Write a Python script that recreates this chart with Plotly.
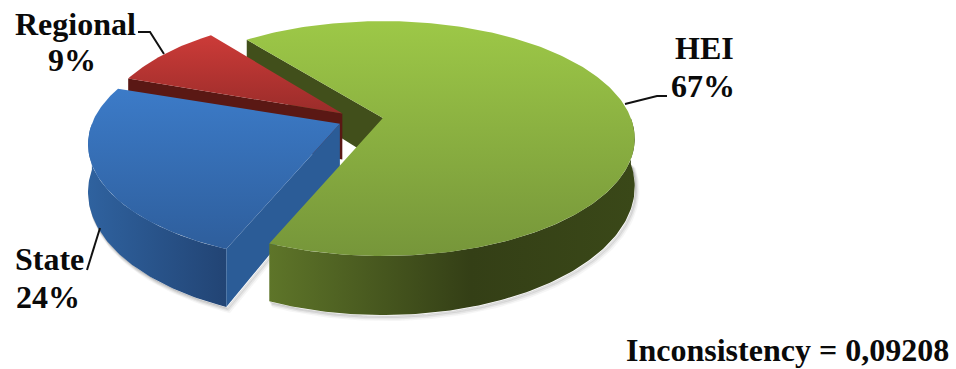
import math
import plotly.graph_objects as go

# Survey shares, in drawing order clockwise from the first slice
categories = ["HEI", "State", "Regional"]
shares = [67, 24, 9]
percent_labels = ["67%", "24%", "9%"]
note_text = "Inconsistency = 0,09208"

# Pie geometry on a 956x369 pixel canvas
CENTER = (360.6, 119.5)
RX, RY = 248.0, 113.9
PERSPECTIVE = 0.1745
DEPTH = 46.0
EXPLODE = 0.091
START_DEG = -38.6
WIDTH_SCALE = {"HEI": 1.0, "State": 1.0, "Regional": 0.965}

face_colors = {
    "HEI": ("#9DC847", "#76963A"),
    "State": ("#3C7BC8", "#2E5E9C"),
    "Regional": ("#CC3B38", "#9A2C2A"),
}
wall_colors = {
    "HEI": [(0, "#5E7529"), (0.55, "#343F16"), (1, "#3A4818")],
    "State": [(0, "#2F629F"), (1, "#224474")],
    "Regional": [(0, "#571814"), (1, "#571814")],
}
cut_colors = {"HEI": "#414F1B", "State": "#2B5C97", "Regional": "#5A1814"}


def project(theta, origin, radius=1.0, scale=1.0):
    """Map a clockwise-from-top angle on the tilted disc to canvas pixels."""
    u = radius * math.sin(theta)
    v = radius * math.cos(theta)
    w = 1 + PERSPECTIVE * v
    return origin[0] + scale * RX * u / w, origin[1] - RY * v / w, w


def drop(w):
    return DEPTH / w ** 1.3


def arc(origin, a0, a1, lower=False, scale=1.0):
    steps = max(int(abs(a1 - a0) * 60), 8)
    xs, ys = [], []
    for i in range(steps + 1):
        x, y, w = project(a0 + (a1 - a0) * i / steps, origin, scale=scale)
        xs.append(x)
        ys.append(y + drop(w) if lower else y)
    return xs, ys


def slice_spans():
    spans = {}
    angle = math.radians(START_DEG)
    for name, share in zip(categories, shares):
        sweep = 2 * math.pi * share / sum(shares)
        mid = angle + sweep / 2
        ox, oy, _ = project(mid, (0, 0), EXPLODE)
        spans[name] = (angle, angle + sweep, (CENTER[0] + ox, CENTER[1] + oy))
        angle += sweep
    return spans


def front_part(a0, a1):
    """Only the stretch of rim between 3 and 9 o'clock faces the viewer."""
    return max(a0, math.pi / 2), min(a1, 3 * math.pi / 2)


spans = slice_spans()
fig = go.Figure()


def add_poly(xs, ys, color=None, gradient=None):
    kw = {"fillgradient": gradient} if gradient else {"fillcolor": color}
    fig.add_trace(go.Scatter(x=xs + xs[:1], y=ys + ys[:1], mode="lines", fill="toself",
                             line=dict(width=0), hoverinfo="skip", showlegend=False, **kw))


def shadow(name):
    a0, a1, origin = spans[name]
    a0, a1 = front_part(a0, a1)
    xs, ys = arc(origin, a0, a1, lower=True)
    if name == "State":
        xs = xs[::-1] + [origin[0]]
        ys = ys[::-1] + [origin[1] + DEPTH]
        xs, ys = xs[::-1], ys[::-1]
    for off, alpha in ((4, 0.05), (3, 0.08), (2, 0.12), (1, 0.16)):
        fig.add_trace(go.Scatter(x=[x + off * 0.7 for x in xs], y=[y + off for y in ys],
                                 mode="lines", hoverinfo="skip", showlegend=False,
                                 line=dict(width=off, color=f"rgba(70,70,70,{alpha})")))


def add_cut(name, angle):
    """Flat wall from the apex out to the rim along one slice edge."""
    _, _, origin = spans[name]
    x, y, w = project(angle, origin, scale=WIDTH_SCALE[name])
    add_poly([origin[0], x, x, origin[0]],
             [origin[1], y, y + drop(w), origin[1] + DEPTH], cut_colors[name])


def add_rim(name):
    a0, a1, origin = spans[name]
    a0, a1 = front_part(a0, a1)
    if a1 <= a0:
        return
    tx, ty = arc(origin, a0, a1)
    bx, by = arc(origin, a0, a1, lower=True)
    add_poly(tx + bx[::-1], ty + by[::-1], gradient=dict(
        type="horizontal", colorscale=wall_colors[name], start=min(tx), stop=max(tx)))


def add_face(name):
    a0, a1, origin = spans[name]
    xs, ys = arc(origin, a0, a1, scale=WIDTH_SCALE[name])
    xs, ys = [origin[0]] + xs, [origin[1]] + ys
    top, bottom = face_colors[name]
    add_poly(xs, ys, gradient=dict(type="vertical", colorscale=[(0, top), (1, bottom)],
                                   start=min(ys), stop=max(ys)))


shadow("HEI")
shadow("State")

# Back to front: green back wall, red slice, blue slice, then the green body
add_cut("HEI", spans["HEI"][0])
add_cut("Regional", spans["Regional"][0])
add_face("Regional")
add_rim("State")
add_cut("State", spans["State"][0])
add_face("State")
add_rim("HEI")
add_face("HEI")

# Leader lines
leaders = [
    ([625, 657, 667], [104, 96, 96]),
    ([138, 150, 164], [32, 32, 54]),
    ([100, 87], [228, 270]),
]
for lx, ly in leaders:
    fig.add_trace(go.Scatter(x=lx, y=ly, mode="lines", hoverinfo="skip", showlegend=False,
                             line=dict(color="#111111", width=2)))

FONT = dict(family="Liberation Serif", size=32, color="#0a0a0a")
label_layout = {
    "HEI": (704, 48, 703, 86),
    "State": (49, 259, 48, 297),
    "Regional": (75, 24, 72, 60),
}
pct = dict(zip(categories, percent_labels))
annotations = []
for name in categories:
    nx, ny, px, py = label_layout[name]
    for x, y, txt in ((nx, ny, name), (px, py, pct[name])):
        annotations.append(dict(x=x, y=y, text=f"<b>{txt}</b>", showarrow=False, font=FONT,
                                xref="x", yref="y", xanchor="center", yanchor="middle"))
annotations.append(dict(x=787, y=350, text=f"<b>{note_text}</b>", showarrow=False, font=FONT,
                        xref="x", yref="y", xanchor="center", yanchor="middle"))

fig.update_layout(
    width=956, height=369, margin=dict(l=0, r=0, t=0, b=0),
    paper_bgcolor="white", plot_bgcolor="white", showlegend=False,
    xaxis=dict(range=[0, 956], visible=False, fixedrange=True),
    yaxis=dict(range=[369, 0], visible=False, fixedrange=True),
    annotations=annotations,
)
fig.write_html("out.html", config={"displayModeBar": False})
